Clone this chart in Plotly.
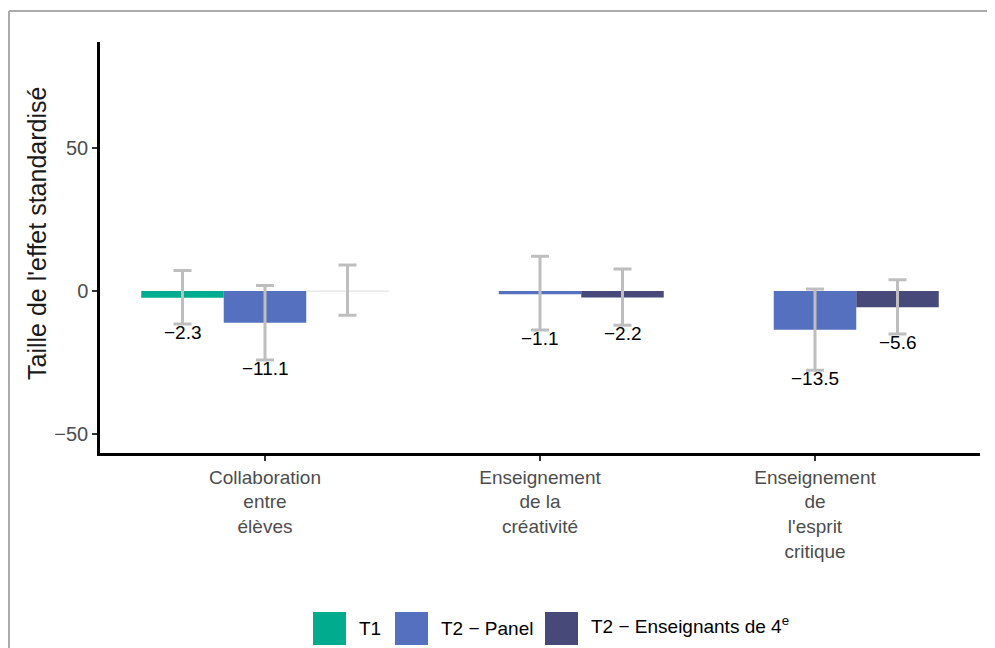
import plotly.graph_objects as go

# --- Données ---
categories = ['Collaboration<br>entre<br>élèves',
              'Enseignement<br>de la<br>créativité',
              'Enseignement<br>de<br>l\'esprit<br>critique']
series = ['T1', 'T2 − Panel', 'T2 − Enseignants de 4<sup>e</sup>']
colors = ['#00AB8E', '#5470BF', '#474A78']

# valeurs (None = pas de donnée)
t1_vals = [-2.3, None, None]
panel_vals = [-11.1, -1.1, -13.5]
ens4_vals = [0.0, -2.2, -5.6]

# intervalles de confiance (haut / bas)
t1_hi = [7.2, None, None]
t1_lo = [-11.5, None, None]
panel_hi = [2.0, 12.2, 0.7]
panel_lo = [-24.1, -13.6, -27.7]
ens4_hi = [9.1, 7.7, 4.0]
ens4_lo = [-8.4, -11.9, -15.0]

# étiquettes affichées (None = pas d'étiquette)
t1_lbl = ['−2.3', None, None]
panel_lbl = ['−11.1', '−1.1', '−13.5']
ens4_lbl = [None, '−2.2', '−5.6']

all_vals = [t1_vals, panel_vals, ens4_vals]
all_hi = [t1_hi, panel_hi, ens4_hi]
all_lo = [t1_lo, panel_lo, ens4_lo]
all_lbl = [t1_lbl, panel_lbl, ens4_lbl]

FONT = 'Liberation Sans, Arial, sans-serif'
xs = list(range(len(categories)))
bargap = 0.1
bar_w = (1 - bargap) / len(series)

fig = go.Figure()
annotations = []
for j, name in enumerate(series):
    vals = all_vals[j]
    plus = [None if v is None else h - v for v, h in zip(vals, all_hi[j])]
    minus = [None if v is None else v - l for v, l in zip(vals, all_lo[j])]
    # barre à zéro dessinée comme un trait gris clair
    line_cols = ['#E3E3E3' if (v is not None and v == 0) else colors[j] for v in vals]
    line_w = [1.2 if (v is not None and v == 0) else 0 for v in vals]
    fig.add_trace(go.Bar(
        x=xs, y=vals, name=name,
        marker=dict(color=colors[j], line=dict(color=line_cols, width=line_w)),
        error_y=dict(type='data', symmetric=False, array=plus, arrayminus=minus,
                     color='#BEBEBE', thickness=3, width=9),
        showlegend=False,
    ))
    for i, lbl in enumerate(all_lbl[j]):
        if lbl is None:
            continue
        annotations.append(dict(
            x=xs[i] + (j - 1) * bar_w, y=all_lo[j][i], xref='x', yref='y',
            text=lbl, showarrow=False, yanchor='middle', yshift=-8,
            font=dict(family=FONT, size=19, color='black')))

# --- Légende manuelle (carrés larges) ---
sw_x = [(313 - 100) / 880, (395 - 100) / 880, (545 - 100) / 880]
sw_w = 33 / 880
y_top = (453 - 612) / 411
y_bot = (453 - 645) / 411
shapes = []
for j, name in enumerate(series):
    shapes.append(dict(type='rect', xref='paper', yref='paper',
                       x0=sw_x[j], x1=sw_x[j] + sw_w, y0=y_bot, y1=y_top,
                       fillcolor=colors[j], line=dict(color=colors[j], width=0)))
    annotations.append(dict(x=sw_x[j] + sw_w + 11 / 880, y=(y_top + y_bot) / 2,
                            xref='paper', yref='paper', text=name, showarrow=False,
                            xanchor='left', yanchor='middle',
                            yshift=4 if '<sup>' in name else 0,
                            font=dict(family=FONT, size=19, color='black')))

# titre de l'axe y (annotation pour le placer comme dans l'original)
annotations.append(dict(x=(37 - 100) / 880, y=(453 - 234) / 411, xref='paper', yref='paper',
                        text="Taille de l'effet standardisé", textangle=-90,
                        showarrow=False, xanchor='center', yanchor='middle',
                        font=dict(family=FONT, size=25, color='#1A1A1A')))

# cadre gris (haut et gauche)
bx = (9 - 100) / 880
by_top = (453 - 11) / 411
by_bot = (453 - 660) / 411
shapes.append(dict(type='line', xref='paper', yref='paper', x0=bx, x1=1.2,
                   y0=by_top, y1=by_top, line=dict(color='#ABABAB', width=2)))
shapes.append(dict(type='line', xref='paper', yref='paper', x0=bx, x1=bx,
                   y0=by_top, y1=by_bot, line=dict(color='#ABABAB', width=2)))

fig.update_layout(
    width=987, height=640,
    margin=dict(l=92, r=15, t=34, b=195),
    plot_bgcolor='white', paper_bgcolor='white',
    barmode='group', bargap=bargap, bargroupgap=0,
    font=dict(family=FONT, size=20, color='#4D4D4D'),
    shapes=shapes, annotations=annotations,
    showlegend=False,
)
fig.update_xaxes(
    tickmode='array', tickvals=xs, ticktext=categories,
    range=[-0.6, 2.6], showgrid=False, zeroline=False,
    showline=True, linecolor='black', linewidth=2.5,
    ticks='outside', ticklen=5, tickwidth=2, tickcolor='#333333',
    tickfont=dict(family=FONT, size=19, color='#4D4D4D'),
)
fig.update_yaxes(
    range=[-56.6, 87.1], tickvals=[-50, 0, 50], ticktext=['−50', '0', '50'],
    showgrid=False, zeroline=False,
    showline=True, linecolor='black', linewidth=2.5,
    ticks='outside', ticklen=5, tickwidth=2, tickcolor='#333333',
    tickfont=dict(family=FONT, size=20, color='#4D4D4D'),
)

fig.write_html('out.html')
